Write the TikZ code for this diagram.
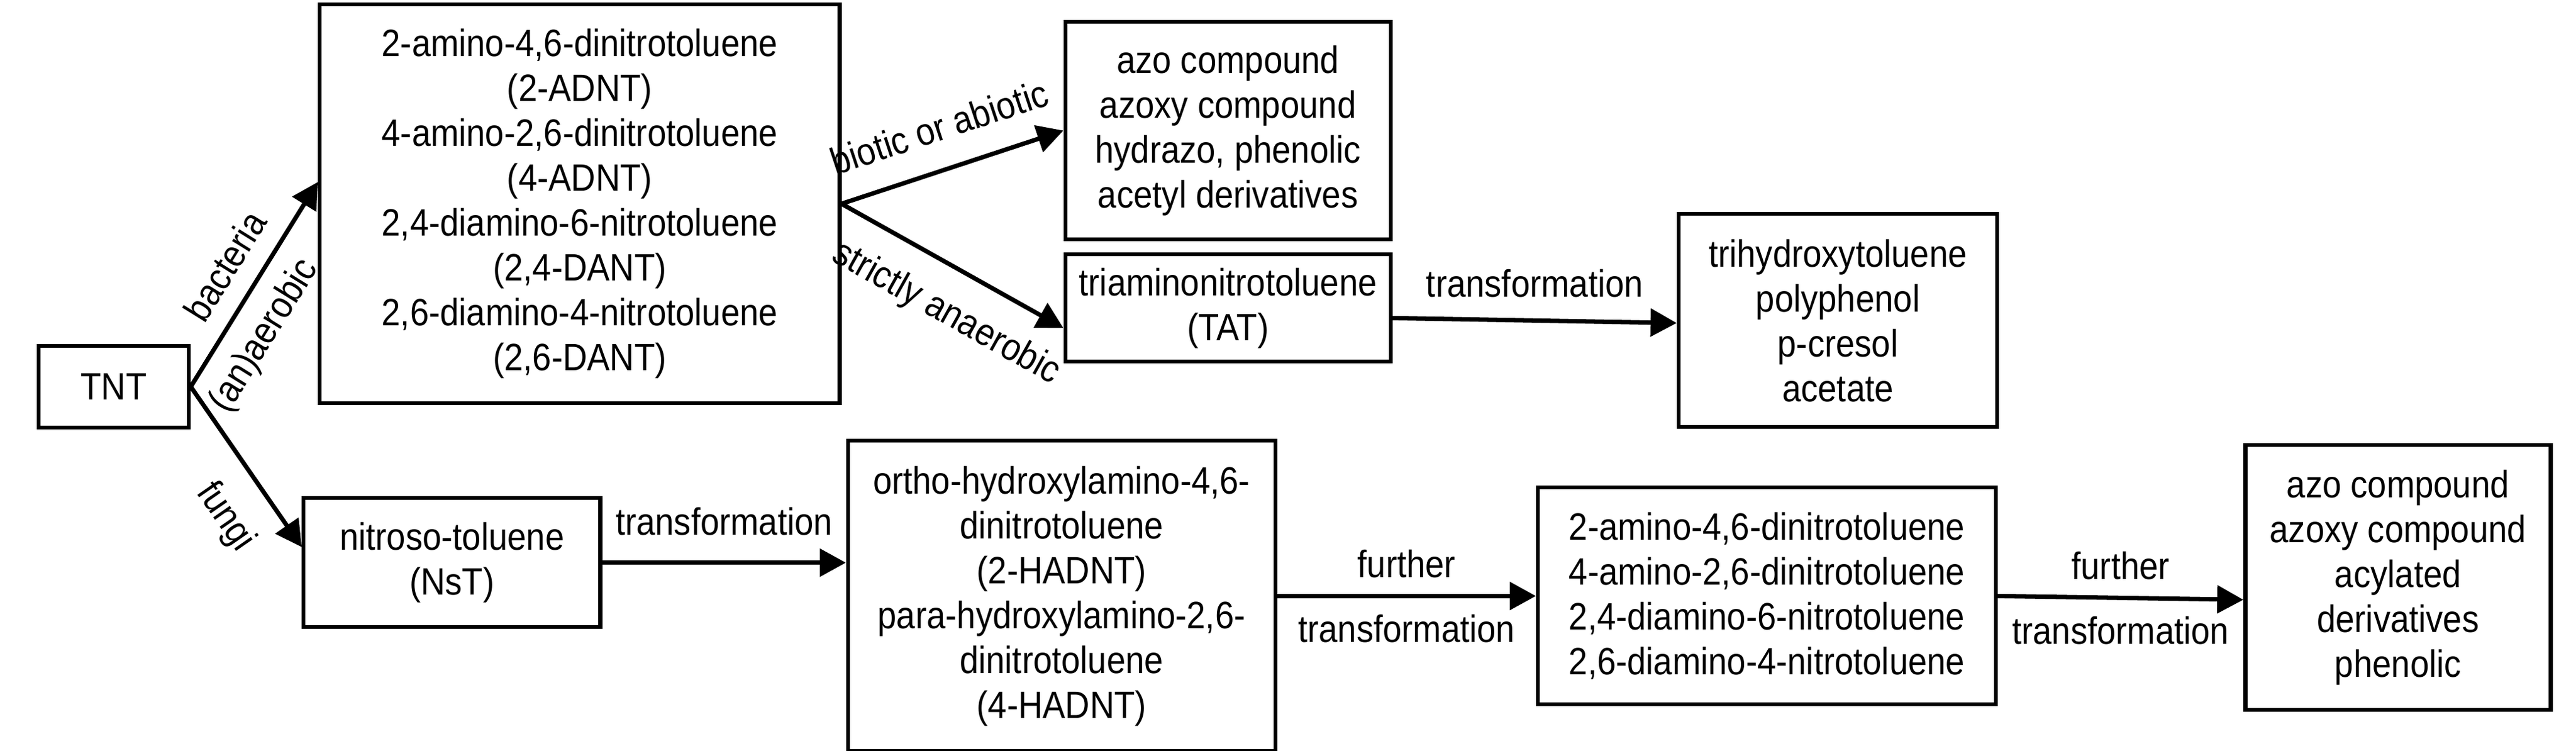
\documentclass[tikz,border=0pt]{standalone}
\usepackage{fontspec}
\setmainfont{Liberation Sans}[FakeStretch=0.89]
\usetikzlibrary{positioning}
\usetikzlibrary{quotes}
\usetikzlibrary{arrows.meta}
\newcommand{\pathfont}{\fontsize{17.4pt}{20.5pt}\selectfont}

\begin{document}
\begin{tikzpicture}
		[compound/.style={rectangle, draw=black, line width=1.8pt, align=center, font=\pathfont, inner sep=0pt},
		route/.style={line width=2pt, -{Triangle[length=0.42cm, width=0.44cm]}},
		every edge quotes/.append style={font=\pathfont, inner sep=0.26cm}]
		\useasboundingbox (0,0) rectangle (41.34,-12.05);
		\node[compound, minimum width=2.41cm, minimum height=1.31cm] (TNT) at (1.825,-6.205) {TNT};
		\node[compound, minimum width=8.34cm, minimum height=6.40cm, right=2.04cm of TNT, yshift=2.935cm] (ADNT) {2-amino-4,6-dinitrotoluene\\(2-ADNT)\\4-amino-2,6-dinitrotoluene\\(4-ADNT)\\2,4-diamino-6-nitrotoluene\\(2,4-DANT)\\2,6-diamino-4-nitrotoluene\\(2,6-DANT)};
		\node[compound, minimum width=5.22cm, minimum height=3.49cm, right=3.56cm of ADNT, yshift=1.175cm] (azo1) {azo compound\\azoxy compound\\hydrazo, phenolic\\acetyl derivatives};
		\node[compound, minimum width=5.22cm, minimum height=1.72cm, below=0.18cm of azo1] (TAT) {triaminonitrotoluene\\(TAT)};
		\node[compound, minimum width=5.11cm, minimum height=3.42cm, right=4.56cm of TAT, yshift=-0.2cm] (trih) {trihydroxytoluene\\polyphenol\\p-cresol\\acetate};
		\node[compound, minimum width=4.76cm, minimum height=2.07cm, below right=1.07cm and 1.78cm of TNT] (NsT) {nitroso-toluene\\(NsT)};
		\node[compound, minimum width=6.86cm, minimum height=4.98cm, right=3.91cm of NsT, yshift=-0.535cm] (HADNT) {ortho-hydroxylamino-4,6-\\dinitrotoluene\\(2-HADNT)\\para-hydroxylamino-2,6-\\dinitrotoluene\\(4-HADNT)};
		\node[compound, minimum width=7.35cm, minimum height=3.48cm, right=4.15cm of HADNT] (amino) {2-amino-4,6-dinitrotoluene\\4-amino-2,6-dinitrotoluene\\2,4-diamino-6-nitrotoluene\\2,6-diamino-4-nitrotoluene};
		\node[compound, minimum width=4.90cm, minimum height=4.25cm, right=3.94cm of amino, yshift=0.295cm] (azo2) {azo compound\\azoxy compound\\acylated\\derivatives\\phenolic};
		\draw[route] (TNT.east) to["bacteria" {above, sloped, pos=0.5, inner sep=0.3cm}, "(an)aerobic" {below, sloped, pos=0.34}] ([yshift=0.35cm]ADNT.west);
		\draw[route] (TNT.east) to["fungi" {below, sloped, pos=0.65, inner sep=0.42cm}] ([yshift=0.25cm]NsT.west);
		\draw[route] (ADNT.east) to["biotic or abiotic" {above, sloped, inner sep=0.42cm}] (azo1.west);
		\draw[route] (ADNT.east) to["strictly anaerobic" {below, sloped, pos=0.57, inner sep=0.4cm}] ([yshift=-0.32cm]TAT.west);
		\draw[route] ([yshift=-0.16cm]TAT.east) to["transformation" {above, inner sep=0.34cm}] ([yshift=-0.04cm]trih.west);
		\draw[route] (NsT.east) to["transformation" {above, inner sep=0.4cm}] ([yshift=0.535cm]HADNT.west);
		\draw[route] (HADNT.east) to["further" above, "transformation" below] (amino.west);
		\draw[route] (amino.east) to["further" above, "transformation" below] ([yshift=-0.355cm]azo2.west);
	\end{tikzpicture}
\end{document}
